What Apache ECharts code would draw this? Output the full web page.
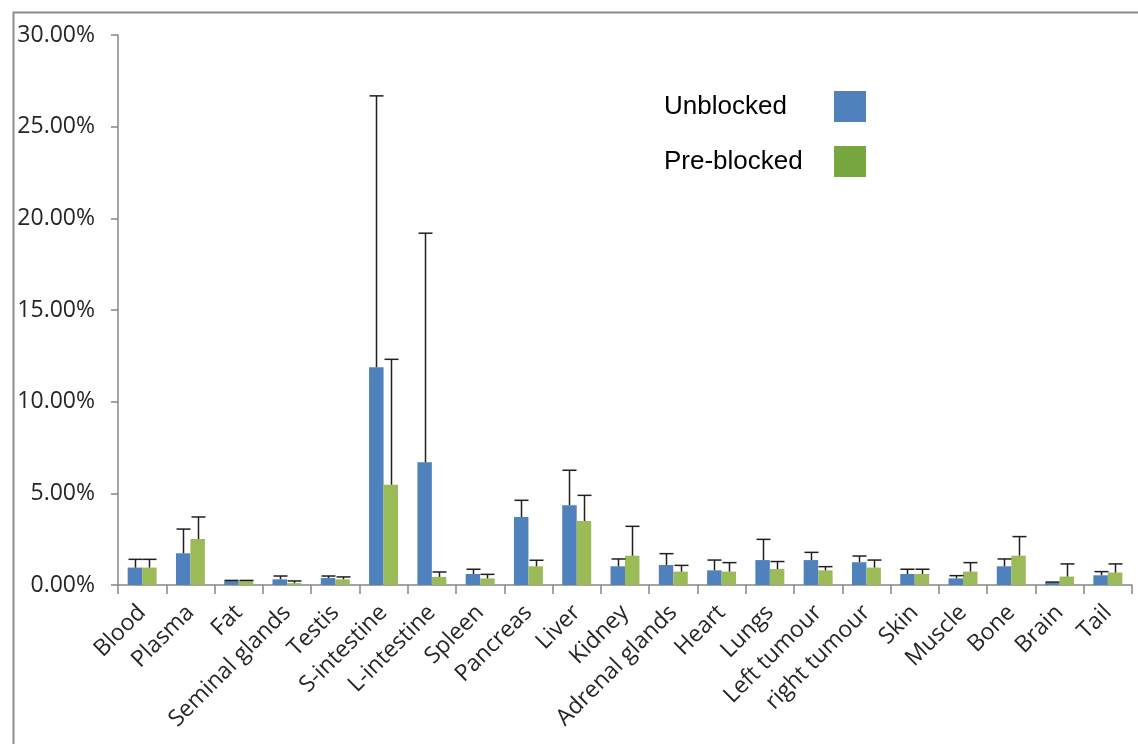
<!DOCTYPE html>
<html>
<head>
<meta charset="utf-8">
<script src="https://cdn.jsdelivr.net/npm/echarts@6/dist/echarts.min.js"></script>
<style>
  html, body { margin: 0; padding: 0; background: #fff; }
</style>
</head>
<body>
<div id="main" style="width:1138px;height:744px;"></div>
<script type="text/javascript">
    // organ names
    var categories = ['Blood', 'Plasma', 'Fat', 'Seminal glands', 'Testis', 'S-intestine', 'L-intestine',
        'Spleen', 'Pancreas', 'Liver', 'Kidney', 'Adrenal glands', 'Heart', 'Lungs', 'Left tumour',
        'right tumour', 'Skin', 'Muscle', 'Bone', 'Brain', 'Tail'];

    // mean uptake (%) and upper error (%)
    var unblocked = [0.95, 1.73, 0.22, 0.31, 0.38, 11.88, 6.69, 0.60, 3.71, 4.35, 1.02, 1.09, 0.80, 1.36, 1.36, 1.24, 0.60, 0.36, 1.02, 0.13, 0.53];
    var unblockedErr = [0.45, 1.32, 0.03, 0.18, 0.11, 14.80, 12.50, 0.26, 0.91, 1.91, 0.40, 0.62, 0.56, 1.13, 0.42, 0.34, 0.26, 0.15, 0.40, 0.03, 0.20];
    var preblocked = [0.95, 2.51, 0.22, 0.10, 0.31, 5.47, 0.44, 0.36, 1.02, 3.49, 1.60, 0.73, 0.73, 0.87, 0.80, 0.95, 0.60, 0.73, 1.60, 0.46, 0.68];
    var preblockedErr = [0.45, 1.20, 0.03, 0.12, 0.13, 6.84, 0.27, 0.22, 0.33, 1.40, 1.60, 0.34, 0.49, 0.41, 0.20, 0.41, 0.26, 0.49, 1.04, 0.69, 0.47];

    var yTicks = { min: 0, max: 30, interval: 5 };

    function errData(mean, err) {
        return mean.map(function (v, i) { return [i, v, err[i]]; });
    }

    // draws an upper error bar over bar no. "side" (-1 left, +1 right)
    function errRender(side) {
        return function (params, api) {
            var i = api.value(0);
            var base = api.coord([i, api.value(1)]);
            var top = api.coord([i, api.value(1) + api.value(2)]);
            var bw = api.size([1, 0])[0];
            var cx = Math.round(base[0] + side * bw * 0.15) + 0.5;
            var st = { stroke: '#1f1f1f', lineWidth: 1.5 };
            return {
                type: 'group',
                children: [
                    { type: 'line', shape: { x1: cx, y1: base[1], x2: cx, y2: top[1] }, style: st },
                    { type: 'line', shape: { x1: cx - 7, y1: top[1], x2: cx + 7, y2: top[1] }, style: st }
                ]
            };
        };
    }

    var myChart = echarts.init(document.getElementById('main'));

    var txt = '#262626';
    var axisGrey = '#868686';

    var option = {
        animation: false,
        backgroundColor: '#fff',
        graphic: [{
            type: 'rect',
            left: 11, top: 10,
            shape: { width: 1200, height: 800 },
            style: { fill: 'none', stroke: '#8c8c8c', lineWidth: 2 },
            silent: true
        }],
        legend: {
            orient: 'vertical',
            left: 664,
            top: 91,
            padding: 0,
            align: 'right',
            itemWidth: 32,
            itemHeight: 31,
            itemGap: 24,
            selectedMode: false,
            formatter: function (name) { return '{t|' + name + '}'; },
            textStyle: {
                fontFamily: 'Liberation Sans', fontSize: 26, color: '#000',
                rich: { t: { width: 165, align: 'left', fontFamily: 'Liberation Sans', fontSize: 26, color: '#000' } }
            },
            data: [
                { name: 'Unblocked', icon: 'rect', itemStyle: { color: '#4F81BD' } },
                { name: 'Pre-blocked', icon: 'rect', itemStyle: { color: '#77A73E' } }
            ]
        },
        grid: { left: 118, right: 6, top: 35, bottom: 159 },
        xAxis: {
            type: 'category',
            data: categories,
            boundaryGap: true,
            axisLine: { lineStyle: { color: axisGrey, width: 1.5 } },
            axisTick: { show: true, length: 9, lineStyle: { color: axisGrey, width: 1.5 } },
            axisLabel: {
                interval: 0,
                rotate: 45,
                margin: 24,
                color: txt,
                fontFamily: 'Open Sans',
                fontSize: 23
            }
        },
        yAxis: {
            type: 'value',
            min: yTicks.min,
            max: yTicks.max,
            interval: yTicks.interval,
            splitLine: { show: false },
            axisLine: { show: true, lineStyle: { color: axisGrey, width: 1.5 } },
            axisTick: { show: true, length: 7, lineStyle: { color: axisGrey, width: 1.5 } },
            axisLabel: {
                margin: 23,
                color: txt,
                fontFamily: 'Open Sans',
                fontSize: 23,
                formatter: function (v) { return v.toFixed(2) + '%'; }
            }
        },
        series: [
            {
                name: 'Unblocked',
                type: 'bar',
                data: unblocked,
                barGap: '0%',
                barCategoryGap: '40%',
                itemStyle: { color: '#4F81BD' }
            },
            {
                name: 'Pre-blocked',
                type: 'bar',
                data: preblocked,
                barGap: '0%',
                barCategoryGap: '40%',
                itemStyle: { color: '#9BBB59' }
            },
            {
                name: 'Unblocked err',
                type: 'custom',
                renderItem: errRender(-1),
                data: errData(unblocked, unblockedErr),
                encode: { x: 0, y: 1 },
                z: 5
            },
            {
                name: 'Pre-blocked err',
                type: 'custom',
                renderItem: errRender(1),
                data: errData(preblocked, preblockedErr),
                encode: { x: 0, y: 1 },
                z: 5
            }
        ]
    };

    myChart.setOption(option);
</script>
</body>
</html>
